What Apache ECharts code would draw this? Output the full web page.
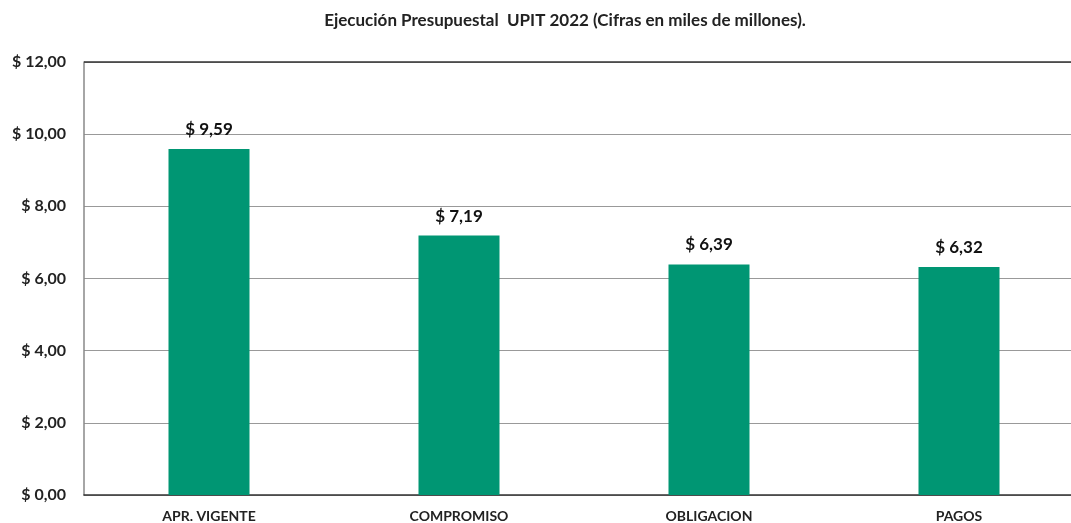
<!DOCTYPE html>
<html><head><meta charset="utf-8">
<script src="https://cdn.jsdelivr.net/npm/echarts@6/dist/echarts.min.js"></script>
<style>html,body{margin:0;padding:0;background:#fff}#c{width:1071px;height:523px}</style>
</head><body><div id="c"></div>
<script>
var categories = ['APR. VIGENTE', 'COMPROMISO', 'OBLIGACION', 'PAGOS'];
var values = [9.59, 7.19, 6.39, 6.32];
var title = 'Ejecución Presupuestal  UPIT 2022 (Cifras en miles de millones).';
function fmt(v){ return '$ ' + v.toFixed(2).replace('.', ','); }
var chart = echarts.init(document.getElementById('c'), null, {renderer:'canvas'});
chart.setOption({
  animation:false,
  backgroundColor:'#fff',
  title:{text:title,left:560,top:7,textAlign:'center',textStyle:{fontFamily:'Lato',fontWeight:'bold',fontSize:17,color:'#222'}},
  grid:{left:84,width:1000,top:62,height:433,containLabel:false,outerBoundsMode:'none'},
  xAxis:{type:'category',data:categories,
    axisLine:{lineStyle:{color:'#333',width:1.5}},axisTick:{show:false},
    axisLabel:{fontFamily:'Lato',fontWeight:'bold',fontSize:14,color:'#222',margin:14}},
  yAxis:{type:'value',min:0,max:12,interval:2,
    axisLine:{show:true,lineStyle:{color:'#888',width:1.5}},axisTick:{show:false},
    splitLine:{lineStyle:{color:'#999',width:1}},
    axisLabel:{formatter:function(v){return fmt(v);},fontFamily:'Lato',fontWeight:'bold',fontSize:16,color:'#222',margin:18}},
  series:[{type:'bar',data:values,barWidth:81,
    itemStyle:{color:'#009673'},
    label:{show:true,position:'top',distance:11,formatter:function(p){return fmt(p.value);},fontFamily:'Lato',fontWeight:'bold',fontSize:17,color:'#111'}},
    {type:'line',data:[],markLine:{silent:true,symbol:'none',label:{show:false},lineStyle:{color:'#333',width:1.5,type:'solid'},data:[{yAxis:12}]}}]
});
</script></body></html>
